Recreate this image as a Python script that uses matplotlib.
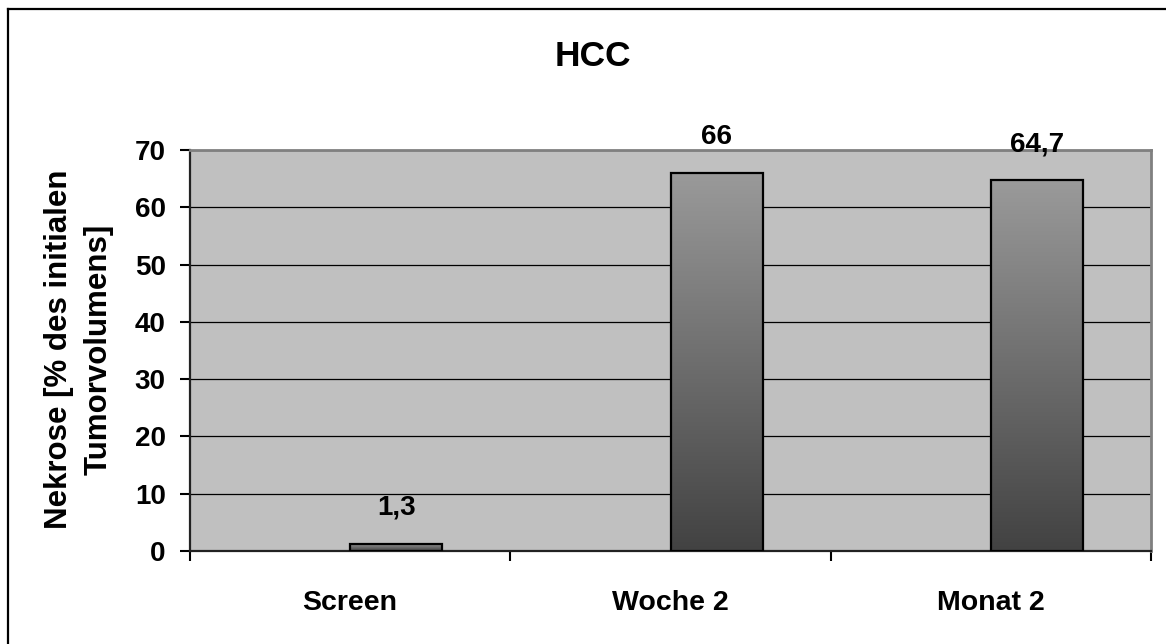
import numpy as np
import matplotlib
matplotlib.use('Agg')
import matplotlib.pyplot as plt
from matplotlib.colors import LinearSegmentedColormap
from matplotlib.lines import Line2D

plt.rcParams['font.family'] = ['Liberation Sans', 'DejaVu Sans']
plt.rcParams['font.weight'] = 'bold'

categories = ['Screen', 'Woche 2', 'Monat 2']
necrosis = [1.3, 66, 64.7]
y_ticks = [0, 10, 20, 30, 40, 50, 60, 70]

BG = '#c0c0c0'
FRAME = '#808080'
bar_cmap = LinearSegmentedColormap.from_list('bar', ['#424242', '#9a9a9a'])

fig = plt.figure(figsize=(11.66, 6.44), dpi=100)
ax = fig.add_axes([190 / 1166, 93 / 644, 961 / 1166, 401 / 644])
ax.set_facecolor(BG)

x = np.arange(len(categories))
bar_w = 0.2875
bars = ax.bar(x, necrosis, width=bar_w, align='edge', facecolor='none',
              edgecolor='black', linewidth=1.6, zorder=4)

# vertical grey gradient inside each bar
grad = np.linspace(0, 1, 256).reshape(-1, 1)
for b in bars:
    x0, y0 = b.get_x(), b.get_y()
    img = ax.imshow(grad, cmap=bar_cmap, origin='lower', aspect='auto',
                    extent=[x0, x0 + b.get_width(), y0, y0 + b.get_height()],
                    zorder=3, interpolation='bilinear')
    img.set_clip_path(b)

for b, v in zip(bars, necrosis):
    ax.annotate(f'{v:g}'.replace('.', ','), (b.get_x() + b.get_width() / 2, v),
                xytext=(0, 26), textcoords='offset points', ha='center', va='center',
                fontsize=20, fontweight='bold', annotation_clip=False)

ax.set_xlim(-0.5, 2.5)
ax.set_ylim(0, 70)
ax.set_yticks(y_ticks)
ax.yaxis.grid(True, color='black', linewidth=0.9, zorder=1)
ax.set_axisbelow(True)
ax.tick_params(axis='y', direction='out', length=7.5, width=1.5, labelsize=20, pad=10)

ax.set_xticks(x)
ax.set_xticklabels(categories)
ax.set_xticks([-0.5, 0.5, 1.5, 2.5], minor=True)
ax.tick_params(axis='x', which='major', length=0, labelsize=20.5, pad=28)
ax.tick_params(axis='x', which='minor', direction='out', length=7.5, width=1.5)

ax.spines['top'].set_color(FRAME)
ax.spines['right'].set_color(FRAME)
ax.spines['top'].set_linewidth(2)
ax.spines['right'].set_linewidth(2)
ax.spines['left'].set_color('#222222')
ax.spines['bottom'].set_color('#222222')
ax.spines['left'].set_linewidth(1.6)
ax.spines['bottom'].set_linewidth(1.6)

fig.text(593 / 1166, 1 - 57 / 644, 'HCC', ha='center', va='center',
         fontsize=25.5, fontweight='bold')
fig.text(79 / 1166, 1 - 349 / 644, 'Nekrose [% des initialen\nTumorvolumens]',
         rotation=90, ha='center', va='center', multialignment='center',
         fontsize=22.5, fontweight='bold', linespacing=1.4)

# outer chart border (left and top edges)
fig.add_artist(Line2D([8 / 1166, 8 / 1166], [0, 1 - 9 / 644], color='black',
                      linewidth=1.6, transform=fig.transFigure))
fig.add_artist(Line2D([8 / 1166, 1], [1 - 9 / 644, 1 - 9 / 644], color='black',
                      linewidth=1.6, transform=fig.transFigure))

fig.savefig('out.png', dpi=100)
